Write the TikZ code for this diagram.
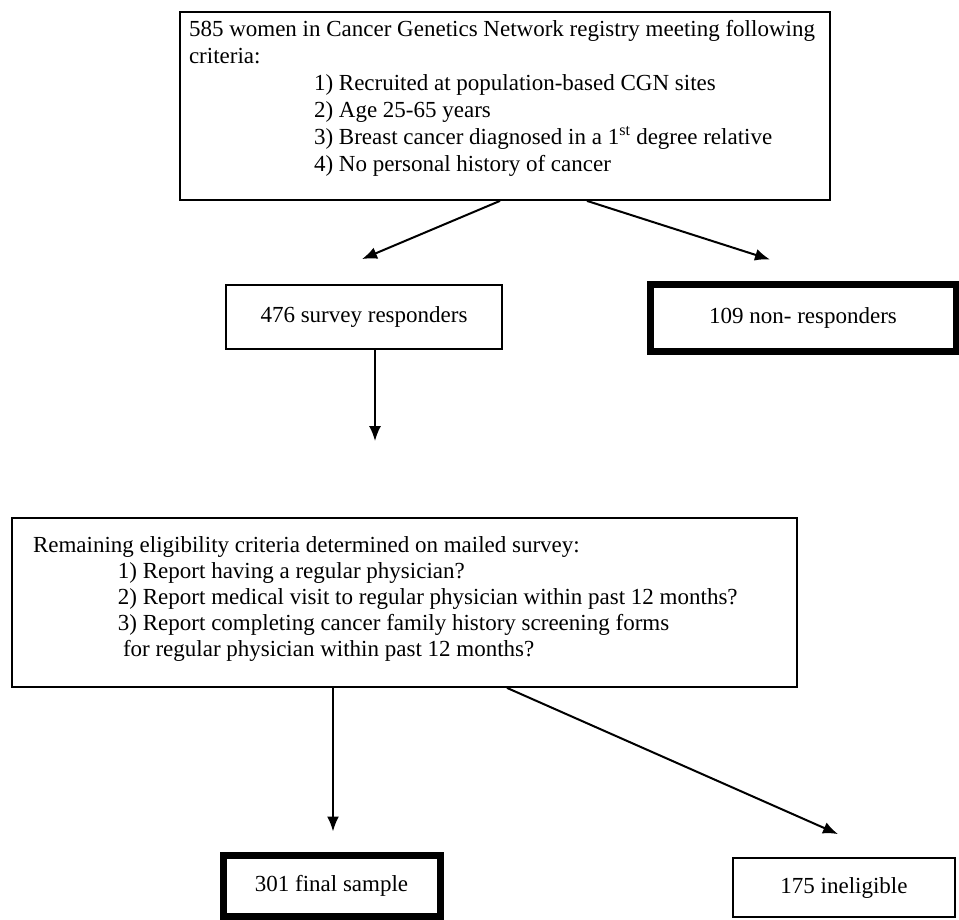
\documentclass[tikz,border=0pt]{standalone}
\usepackage{fontspec}
\setmainfont{Liberation Serif}
\usetikzlibrary{arrows.meta}
\newcommand{\boxlines}[4] % width, height, top gap, lines
{%
	\parbox[t][#2][t]{#1}{\vspace*{#3}#4}%
}

\begin{document}
\begin{tikzpicture}[x=1pt, y=-1pt,
	every node/.style={font=\fontsize{23}{26}\selectfont, inner sep=0pt},
	thinbox/.style={draw, line width=1.8pt},
	thickbox/.style={draw, line width=7pt},
	flow/.style={-{Latex[length=15pt,width=12pt]}, line width=2pt}]
	% page 959 x 920, one unit is one pixel, y downwards
	\useasboundingbox (0,0) rectangle (959,920);

	\node[thinbox, inner xsep=9pt, font=\fontsize{23}{27}\selectfont] (crit) at (505,106) {\boxlines{632pt}{188pt}{8pt}{%
		585 women in Cancer Genetics Network registry meeting following\\
		criteria:\\
		\hspace*{125pt}1) Recruited at population-based CGN sites\\
		\hspace*{125pt}2) Age 25-65 years\\
		\hspace*{125pt}3) Breast cancer diagnosed in a 1\textsuperscript{st} degree relative\\
		\hspace*{125pt}4) No personal history of cancer}};

	\node[thinbox, minimum width=276pt, minimum height=64pt] (resp) at (364,317) {476 survey responders};
	\node[thickbox, minimum width=306pt, minimum height=66pt] (nonresp) at (803,318) {109 non- responders};

	\node[thinbox, inner xsep=21pt] (remain) at (404.5,602.5) {\boxlines{743pt}{169pt}{19pt}{%
		Remaining eligibility criteria determined on mailed survey:\\
		\hspace*{85pt}1) Report having a regular physician?\\
		\hspace*{85pt}2) Report medical visit to regular physician within past 12 months?\\
		\hspace*{85pt}3) Report completing cancer family history screening forms\\
		\hspace*{90pt}for regular physician within past 12 months?}};

	\node[thickbox, minimum width=217pt, minimum height=61pt] (final) at (331.5,885.5) {301 final sample};
	\node[thinbox, minimum width=222pt, minimum height=59pt] (inelig) at (844,887.5) {175 ineligible};

	% arrows
	\draw[flow] ([xshift=-5pt]crit.south) -- ([xshift=-2pt,yshift=25pt]resp.north);
	\draw[flow] ([xshift=82pt]crit.south) -- ([xshift=-33pt,yshift=22pt]nonresp.north);
	\draw[flow] ([xshift=11pt]resp.south) -- ([xshift=-29.5pt,yshift=76pt]remain.north);
	\draw[flow] ([xshift=-71.5pt]remain.south) -- ([xshift=1.5pt,yshift=20pt]final.north);
	\draw[flow] ([xshift=102.5pt]remain.south) -- ([xshift=-6pt,yshift=23pt]inelig.north);
\end{tikzpicture}
\end{document}
